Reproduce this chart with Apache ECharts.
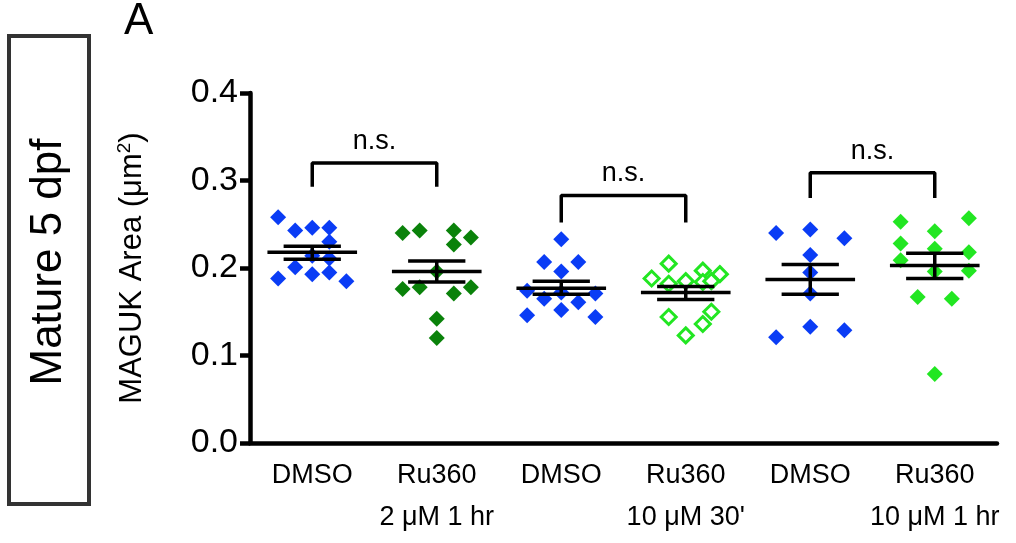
<!DOCTYPE html>
<html><head><meta charset="utf-8">
<script src="https://cdn.jsdelivr.net/npm/echarts@6/dist/echarts.min.js"></script>
<style>body{margin:0;background:#fff}#c{width:1016px;height:543px}</style>
</head><body><div id="c"></div>
<script>
var categories = ['DMSO', 'Ru360\n2 μM 1 hr', 'DMSO', 'Ru360\n10 μM 30\'', 'DMSO', 'Ru360\n10 μM 1 hr'];
// per-group point values (μm²) and horizontal slot (-2..2) of each point
var g1 = [0.258,0.243,0.246,0.246,0.230,0.214,0.211,0.201,0.193,0.195,0.188,0.185];
var s1 = [-2,-1,0,1,1,0,1,-1,0,1,-2,2];
var g2 = [0.240,0.243,0.243,0.235,0.227,0.196,0.176,0.178,0.171,0.178,0.142,0.120];
var s2 = [-2,-1,1,2,1,0,-2,-1,1,2,0,0];
var g3 = [0.233,0.207,0.207,0.196,0.174,0.165,0.172,0.161,0.171,0.146,0.152,0.144];
var s3 = [0,-1,1,0,-2,-1,0,1,2,-2,0,2];
var g4 = [0.205,0.188,0.197,0.193,0.182,0.185,0.184,0.185,0.144,0.136,0.150,0.123];
var s4 = [-1,-2,1,2,-1,0,1,1.5,-1,1,1.5,0];
var g5 = [0.240,0.244,0.234,0.215,0.195,0.171,0.121,0.133,0.129];
var s5 = [-2,0,2,0,0,0,-2,0,2];
var g6 = [0.253,0.257,0.242,0.228,0.222,0.218,0.209,0.196,0.197,0.167,0.165,0.079];
var s6 = [-2,2,0,-2,0,2,-2,0,2,-1,1,0];
var means = [0.218,0.196,0.177,0.172,0.187,0.203];
var semHi = [0.225,0.208,0.185,0.179,0.204,0.217];
var semLo = [0.210,0.184,0.170,0.164,0.170,0.188];
var brackets = [[0,1,0.320,0.293],[2,3,0.283,0.252],[4,5,0.309,0.280]];

var groups = [g1,g2,g3,g4,g5,g6];
var slots = [s1,s2,s3,s4,s5,s6];
var colors = ['#0a3cf5','#0a820a','#0a3cf5','#22e622','#0a3cf5','#22e622'];
var slotW = 0.137;

var series = [];
groups.forEach(function(g, i){
  var hollow = i === 3;
  series.push({
    type:'scatter', xAxisIndex:1, symbol:'diamond', symbolSize: hollow ? 15 : 16,
    itemStyle: hollow ? {color:'#fff', borderColor:colors[i], borderWidth:3, opacity:1} : {color:colors[i], opacity:1},
    data: g.map(function(v, k){ return [i + 0.5 + slots[i][k]*slotW, v]; }),
    z: 2
  });
});
var lines = [];
means.forEach(function(m, i){
  var c = i + 0.5;
  lines.push([[c-0.36,m],[c+0.36,m]]);
  lines.push([[c-0.23,semHi[i]],[c+0.23,semHi[i]]]);
  lines.push([[c-0.23,semLo[i]],[c+0.23,semLo[i]]]);
  lines.push([[c,semLo[i]],[c,semHi[i]]]);
});
brackets.forEach(function(b){
  var a = b[0]+0.5, e = b[1]+0.5;
  lines.push([[a,b[3]],[a,b[2]],[e,b[2]],[e,b[3]]]);
});
lines.forEach(function(l){
  series.push({type:'line', xAxisIndex:1, data:l, symbol:'none', silent:true,
    lineStyle:{color:'#000', width:3.5}, z:5});
});
series.push({type:'scatter', xAxisIndex:1, symbolSize:0, silent:true,
  itemStyle:{opacity:1},
  data: brackets.map(function(b){ return [(b[0]+b[1])/2+0.5, b[2]]; }),
  label:{show:true, formatter:'n.s.', position:'top', distance:8, color:'#000', opacity:1, fontSize:27, fontFamily:'Liberation Sans'}});

var chart = echarts.init(document.getElementById('c'));
chart.setOption({
  animation:false,
  grid:{left:250, right:19, top:93, bottom:100},
  xAxis:[{
    type:'category', data:categories,
    axisLine:{lineStyle:{color:'#000', width:4.5}},
    axisTick:{alignWithLabel:true, length:8, lineStyle:{width:4.5}},
    axisLabel:{interval:0, color:'#000', fontSize:27, fontFamily:'Liberation Sans', lineHeight:42, margin:12}
  },{type:'value', min:0, max:6, show:false}],
  yAxis:{
    type:'value', min:0, max:0.4, interval:0.1,
    name:'MAGUK Area (μm{s|2})', nameLocation:'middle', nameGap:100,
    nameTextStyle:{color:'#000', fontSize:31, fontFamily:'Liberation Sans', rich:{s:{fontSize:19, verticalAlign:'top', padding:[0,0,16,0]}}},
    axisLine:{show:true, lineStyle:{color:'#000', width:4.5}},
    axisTick:{show:true, length:10, lineStyle:{width:4.5}},
    splitLine:{show:false},
    axisLabel:{color:'#000', fontSize:34, fontFamily:'Liberation Sans', margin:12,
      formatter:function(v){return v.toFixed(1);}}
  },
  graphic:[
    {type:'rect', shape:{x:9, y:36, width:80, height:468}, style:{fill:'none', stroke:'#333', lineWidth:4}},
    {type:'text', x:49, y:262, rotation:Math.PI/2, style:{text:'Mature 5 dpf', font:'44px "Liberation Sans"', fill:'#000', textAlign:'center', textVerticalAlign:'middle'}},
    {type:'text', x:124, y:0, style:{text:'A', font:'44px "Liberation Sans"', fill:'#000'}}
  ],
  series:series
});
</script></body></html>
